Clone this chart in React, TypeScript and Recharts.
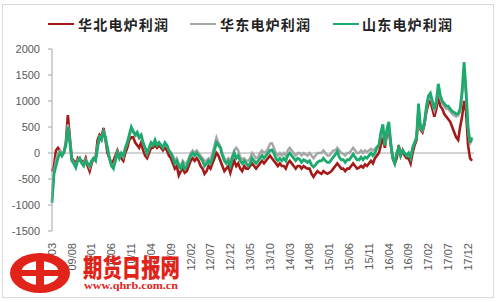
import React from 'react';
import { LineChart, Line, XAxis, YAxis, ReferenceLine } from 'recharts';

// x轴标签，每5个月一个（数据为半月频）
const tickLabels = [
  '09/03', '09/08', '10/01', '10/06', '10/11', '11/04', '11/09', '12/02', '12/07', '12/12', '13/05',
  '13/10', '14/03', '14/08', '15/01', '15/06', '15/11', '16/04', '16/09', '17/02', '17/07', '17/12',
];

const seriesNames = ['华北电炉利润', '华东电炉利润', '山东电炉利润'];

const huabei = [
  -350, -250, 50, 100, 50, -50, 0, 200, 730, 300,
  -100, -150, -200, -100, -150, -150, -200, -100, -250, -350,
  -200, -100, -100, 250, 350, 300, 480, 250, 0, -100,
  -200, -150, -50, 50, -50, -100, -150, 0, 100, 250,
  300, 300, 200, 150, 100, 200, 50, -50, -100, 0,
  100, 100, 150, 100, 150, 100, 50, 100, 50, -50,
  -100, -200, -300, -250, -430, -350, -300, -380, -350, -250,
  -150, -100, -150, -100, -150, -250, -300, -400, -350, -250,
  -300, -200, -100, 0, -50, -150, -250, -350, -300, -250,
  -380, -250, -150, -250, -200, -300, -350, -250, -300, -300,
  -250, -200, -250, -300, -250, -200, -150, -200, -150, -100,
  -50, -100, -150, -200, -250, -200, -250, -250, -300, -200,
  -150, -200, -250, -300, -250, -250, -300, -250, -280, -300,
  -300, -400, -460, -400, -350, -380, -400, -350, -380, -400,
  -380, -350, -300, -250, -200, -250, -300, -300, -350, -300,
  -300, -250, -200, -250, -300, -280, -250, -280, -220, -250,
  -200, -150, -200, -100, -50, 0, 150, 300, 100, 350,
  450, 150, -100, -200, -100, 150, -50, 50, -50, -100,
  -100, -200, 0, 150, 250, 800, 450, 400, 550, 800,
  950, 1000, 850, 700, 850, 1100, 900, 850, 750, 700,
  650, 600, 500, 400, 300, 250, 500, 700, 1000, 800,
  150, -100, -150,
];

const huadong = [
  -900, -350, -150, 0, 50, -50, 20, 150, 550, 250,
  -120, -180, -250, -120, -100, -180, -220, -130, -200, -280,
  -170, -100, -130, 150, 320, 280, 420, 280, 80, -100,
  -230, -250, -120, 20, -80, -20, -80, 80, 180, 320,
  450, 400, 320, 350, 280, 320, 180, 80, -20, 80,
  180, 150, 230, 150, 200, 150, 100, 180, 150, 50,
  0, -50, -150, -100, -200, -250, -150, -200, -200, -100,
  0, 50, 0, 50, 0, -50, -100, -150, -150, -100,
  -120, 0, 150, 300, 200, 120, 0, -100, -150, -100,
  -150, -50, 50, 100, 50, -80, -120, -100, -150, -150,
  -100, 0, -50, -100, -80, 0, 50, 0, 30, 80,
  180, 190, 100, 0, -50, 0, -50, 0, -50, 50,
  100, 50, 0, -50, 0, 0, -50, 0, -30, -50,
  0, -50, -100, -50, 0, 0, 0, 50, 0, -50,
  -50, 0, 50, 50, 100, 50, 0, -20, -50, 0,
  0, 50, 100, 50, 0, 0, 50, 0, 50, 20,
  50, 80, 50, 80, 120, 150, 350, 450, 150, 400,
  500, 180, -80, -150, 0, 100, -30, 50, 0, -50,
  0, -80, 100, 200, 280, 850, 480, 430, 580, 850,
  1050, 1100, 950, 820, 950, 1250, 1050, 950, 900, 850,
  850, 800, 750, 720, 700, 720, 800, 1100, 1500, 1100,
  450, 180, 250,
];

const shandong = [
  -960, -400, -250, -100, 0, -50, 20, 150, 500, 200,
  -150, -200, -280, -150, -100, -200, -250, -150, -200, -250,
  -150, -100, -150, 100, 300, 250, 400, 300, 100, -100,
  -250, -300, -150, 0, -100, 0, -50, 100, 200, 350,
  500, 420, 350, 400, 300, 350, 200, 100, 0, 100,
  200, 150, 250, 150, 200, 150, 100, 200, 150, 50,
  0, -100, -200, -150, -250, -300, -200, -300, -250, -150,
  -50, 0, -50, 0, -50, -100, -150, -250, -200, -150,
  -200, -100, 50, 200, 150, 100, -50, -150, -200, -150,
  -250, -100, 0, -100, -50, -150, -200, -150, -200, -250,
  -200, -100, -150, -200, -150, -100, -50, -100, -50, 0,
  50, 60, 0, -100, -150, -100, -150, -100, -150, -50,
  0, -50, -100, -150, -100, -120, -180, -130, -150, -180,
  -150, -230, -270, -230, -180, -150, -150, -100, -150, -180,
  -180, -130, -80, -30, 30, -80, -130, -130, -180, -130,
  -130, -80, -20, -80, -130, -130, -80, -130, -80, -100,
  -50, 0, -50, 0, 100, 150, 400, 550, 150, 450,
  600, 200, -100, -200, 0, 100, -50, 50, 0, -50,
  0, -100, 100, 200, 300, 950, 500, 450, 600, 900,
  1100, 1150, 1000, 850, 1000, 1330, 1100, 1000, 950, 900,
  900, 850, 800, 780, 750, 760, 850, 1200, 1750, 1200,
  500, 200, 300,
];

const colors = ['#A31A18', '#A6A6A6', '#1CAA6E'];

const data = shandong.map((_, i) => ({
  idx: i,
  huabei: huabei[i],
  huadong: huadong[i],
  shandong: shandong[i],
}));

const XTick = ({ x, y, payload }: any) => (
  <text
    x={x}
    y={y}
    transform={`rotate(-90, ${x}, ${y})`}
    textAnchor="end"
    dy="0.35em"
    fontSize={11}
    fill="#595959"
    fontFamily="'Liberation Sans', Arial, sans-serif"
  >
    {tickLabels[Math.round(payload.value / 10)]}
  </text>
);

const LegendBar = () => {
  const items = [
    { x: 48, textX: 78 },
    { x: 190, textX: 220 },
    { x: 333, textX: 362 },
  ];
  return (
    <>
      {items.map((it, k) => (
        <React.Fragment key={k}>
          <div style={{ position: 'absolute', left: it.x, top: 23, width: 26, height: 2, background: colors[k] }} />
          <div
            style={{
              position: 'absolute',
              left: it.textX,
              top: 14,
              fontSize: 14,
              fontWeight: 'bold',
              letterSpacing: 1.2,
              color: '#222',
              fontFamily: "'Noto Sans CJK SC', sans-serif",
              lineHeight: '20px',
              whiteSpace: 'nowrap',
            }}
          >
            {seriesNames[k]}
          </div>
        </React.Fragment>
      ))}
    </>
  );
};

// 水印
const Watermark = () => (
  <svg width={200} height={60} style={{ position: 'absolute', left: 0, top: 240 }}>
    <ellipse cx={40} cy={33} rx={30} ry={20} fill="#E2231A" />
    <ellipse cx={40} cy={33} rx={19} ry={12} fill="#fff" />
    <rect x={20} y={30} width={40} height={6} fill="#E2231A" />
    <rect x={36} y={15} width={8} height={36} fill="#E2231A" />
    <text
      x={83}
      y={37}
      fontSize={25}
      fontWeight={900}
      fill="#E2231A"
      fontFamily="'Noto Sans CJK SC', sans-serif"
      textLength={97}
      lengthAdjust="spacingAndGlyphs"
    >
      期货日报网
    </text>
    <text
      x={84}
      y={49}
      fontSize={11}
      fontWeight="bold"
      fill="#E2231A"
      fontFamily="'Liberation Serif', serif"
      textLength={94}
      lengthAdjust="spacingAndGlyphs"
    >
      www.qhrb.com.cn
    </text>
  </svg>
);

export default function App() {
  return (
    <div style={{ position: 'absolute', left: 0, top: 0, width: 500, height: 302, background: '#fff' }}>
      <div style={{ position: 'absolute', left: 2, top: 4, width: 490, height: 292, border: '1px solid #D9D9D9' }} />
      <LineChart width={500} height={302} data={data} margin={{ top: 49, right: 26, bottom: 11, left: 5 }}>
        <XAxis
          dataKey="idx"
          type="number"
          domain={[0, 213]}
          ticks={tickLabels.map((_, k) => k * 10)}
          tick={<XTick />}
          axisLine={false}
          tickLine={false}
          tickSize={0}
          tickMargin={12}
          height={60}
          interval={0}
        />
        <YAxis
          domain={[-1500, 2000]}
          ticks={[-1500, -1000, -500, 0, 500, 1000, 1500, 2000]}
          width={47}
          axisLine={{ stroke: '#A6A6A6' }}
          tickLine={{ stroke: '#A6A6A6' }}
          tickSize={4}
          tickMargin={8}
          tick={{ fontSize: 11, fill: '#595959', fontFamily: "'Liberation Sans', Arial, sans-serif" }}
          allowDataOverflow
        />
        <ReferenceLine y={0} stroke="#A6A6A6" />
        <Line dataKey="huabei" stroke={colors[0]} strokeWidth={2.6} dot={false} isAnimationActive={false} />
        <Line dataKey="huadong" stroke={colors[1]} strokeWidth={2.4} dot={false} isAnimationActive={false} />
        <Line dataKey="shandong" stroke={colors[2]} strokeWidth={2.8} dot={false} isAnimationActive={false} />
      </LineChart>
      <LegendBar />
      <Watermark />
    </div>
  );
}
